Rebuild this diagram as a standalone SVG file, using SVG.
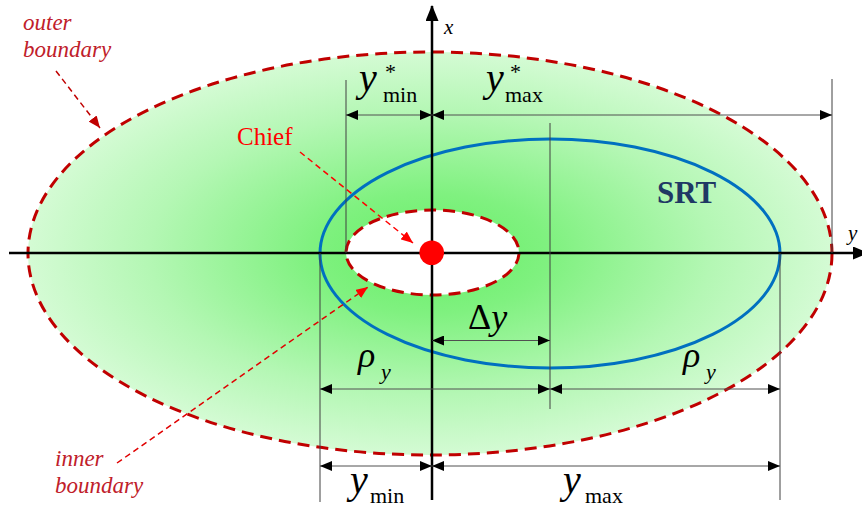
<svg xmlns="http://www.w3.org/2000/svg" width="862" height="510" viewBox="0 0 862 510">
<defs>
<radialGradient id="greenGrad" cx="0.5" cy="0.5" r="0.5">
<stop offset="0" stop-color="#66ef66"/>
<stop offset="0.3" stop-color="#80f180"/>
<stop offset="0.7" stop-color="#b4f7b4"/>
<stop offset="1" stop-color="#d4fbd4"/>
</radialGradient>
<marker id="dimArrow" markerUnits="userSpaceOnUse" markerWidth="12" markerHeight="10" refX="12" refY="5" orient="auto-start-reverse" viewBox="0 0 12 10">
<path d="M0,0 L12,5 L0,10 z" fill="#000"/>
</marker>
<marker id="axisArrow" markerUnits="userSpaceOnUse" markerWidth="16" markerHeight="13" refX="15" refY="6.5" orient="auto" viewBox="0 0 16 13">
<path d="M0,0 L16,6.5 L0,13 z" fill="#000"/>
</marker>
<marker id="redArrowDark" markerUnits="userSpaceOnUse" markerWidth="12" markerHeight="10" refX="12" refY="5" orient="auto" viewBox="0 0 12 10">
<path d="M0,0 L12,5 L0,10 z" fill="#c00000"/>
</marker>
<marker id="redArrow" markerUnits="userSpaceOnUse" markerWidth="12" markerHeight="10" refX="12" refY="5" orient="auto" viewBox="0 0 12 10">
<path d="M0,0 L12,5 L0,10 z" fill="#ff0000"/>
</marker>
</defs>
<style>
.boundary{stroke:#c00000;stroke-width:3;stroke-dasharray:12 7}
.srt{fill:none;stroke:#0070c0;stroke-width:3}
.axis{stroke:#000;stroke-width:2.5;fill:none}
.ext{stroke:#404040;stroke-width:1;fill:none}
.dim{stroke:#505050;stroke-width:1;fill:none;marker-start:url(#dimArrow);marker-end:url(#dimArrow)}
.callout{fill:none;stroke-width:1.5;stroke-dasharray:6 4}
.note{font-style:italic;font-size:23px;fill:#c0202a}
.math{fill:#000}
.it{font-style:italic}
</style>

<g id="outer-boundary">
<ellipse cx="430" cy="253.5" rx="402" ry="201.5" fill="url(#greenGrad)" class="boundary"/>
</g>

<g id="inner-boundary">
<ellipse cx="432.5" cy="252.5" rx="86.5" ry="42.5" fill="#fff" class="boundary"/>
</g>

<g id="srt">
<ellipse cx="550" cy="253.5" rx="230" ry="114.5" class="srt"/>
<text x="657" y="203" font-family="Liberation Serif, serif" font-weight="bold" font-size="31" fill="#1f3864">SRT</text>
</g>

<g id="axes">
<line x1="9" y1="253" x2="868" y2="253" class="axis" marker-end="url(#axisArrow)"/>
<line x1="432" y1="500" x2="432" y2="6" class="axis" marker-end="url(#axisArrow)"/>
<text x="444" y="34" class="math it" font-family="Liberation Serif, serif" font-size="21">x</text>
<text x="848" y="240" class="math it" font-family="Liberation Serif, serif" font-size="21">y</text>
</g>

<g id="chief">
<circle cx="431.7" cy="252.7" r="12.3" fill="#ff0000"/>
<text x="237" y="145" font-family="Liberation Serif, serif" font-size="25" fill="#ff0000">Chief</text>
</g>

<g id="extension-lines">
<line x1="346" y1="80" x2="346" y2="253" class="ext"/>
<line x1="832" y1="79" x2="832" y2="253" class="ext"/>
<line x1="550" y1="123" x2="550" y2="409" class="ext"/>
<line x1="320" y1="253" x2="320" y2="502" class="ext"/>
<line x1="780" y1="253" x2="780" y2="500" class="ext"/>
</g>

<g id="connectors">
<line x1="346" y1="115" x2="432" y2="115" class="dim"/>
<line x1="432" y1="115" x2="832" y2="115" class="dim"/>
<line x1="432" y1="340.5" x2="550" y2="340.5" class="dim"/>
<line x1="320" y1="389" x2="550" y2="389" class="dim"/>
<line x1="550" y1="389" x2="780" y2="389" class="dim"/>
<line x1="320" y1="466" x2="432" y2="466" class="dim"/>
<line x1="432" y1="466" x2="780" y2="466" class="dim"/>
<line x1="56" y1="71" x2="100" y2="128" class="callout" stroke="#c00000" marker-end="url(#redArrowDark)"/>
<line x1="300" y1="152" x2="413" y2="243" class="callout" stroke="#ff0000" marker-end="url(#redArrow)"/>
<line x1="117" y1="463" x2="368" y2="287" class="callout" stroke="#e00000" marker-end="url(#redArrow)"/>
</g>

<g id="labels">
<text x="23" y="30" class="note" font-family="Liberation Serif, serif">outer</text>
<text x="23" y="57" class="note" font-family="Liberation Serif, serif">boundary</text>
<text x="55" y="466" class="note" font-family="Liberation Serif, serif">inner</text>
<text x="55" y="493" class="note" font-family="Liberation Serif, serif">boundary</text>

<text x="359" y="91" class="math it" font-family="Liberation Serif, serif" font-size="40">y</text>
<text x="385" y="79" class="math" font-family="Liberation Serif, serif" font-size="22">*</text>
<text x="383" y="102" class="math" font-family="Liberation Serif, serif" font-size="22">min</text>

<text x="486" y="91" class="math it" font-family="Liberation Serif, serif" font-size="40">y</text>
<text x="510" y="79" class="math" font-family="Liberation Serif, serif" font-size="22">*</text>
<text x="505" y="102" class="math" font-family="Liberation Serif, serif" font-size="22">max</text>

<text x="468" y="329" class="math" font-family="Liberation Serif, serif" font-size="36">Δ<tspan font-style="italic">y</tspan></text>

<text x="358" y="367" class="math it" font-family="Liberation Serif, serif" font-size="36">ρ</text>
<text x="381" y="379" class="math it" font-family="Liberation Serif, serif" font-size="22">y</text>
<text x="683" y="367" class="math it" font-family="Liberation Serif, serif" font-size="36">ρ</text>
<text x="706" y="379" class="math it" font-family="Liberation Serif, serif" font-size="22">y</text>

<text x="350" y="493" class="math it" font-family="Liberation Serif, serif" font-size="40">y</text>
<text x="370" y="503" class="math" font-family="Liberation Serif, serif" font-size="22">min</text>
<text x="563" y="493" class="math it" font-family="Liberation Serif, serif" font-size="40">y</text>
<text x="585" y="503" class="math" font-family="Liberation Serif, serif" font-size="22">max</text>
</g>
</svg>
